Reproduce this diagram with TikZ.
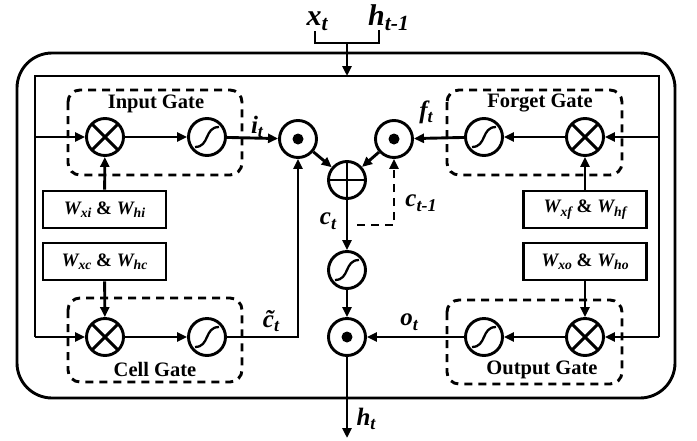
\documentclass[tikz,border=0pt]{standalone}
\usepackage{fontspec}
\setmainfont{Liberation Serif}
\usetikzlibrary{arrows.meta,calc}
\newcommand\subs[1]{\raisebox{-0.18em}{\scalebox{0.72}{#1}}}
\begin{document}
\begin{tikzpicture}[x=1pt,y=-1pt,
 ln/.style={line width=2.9pt},
 arr/.style={line width=2.9pt,-{Triangle[length=10pt,width=9pt]}},
 dsh/.style={line width=2.9pt,dash pattern=on 8pt off 6pt},
 op/.style={circle,draw,line width=2.9pt,minimum size=37pt,inner sep=0pt},
 mul/.style={op,path picture={\draw[line width=2.9pt] (path picture bounding box.north west)--(path picture bounding box.south east) (path picture bounding box.north east)--(path picture bounding box.south west);}},
 pls/.style={op,path picture={\draw[line width=2.9pt] (path picture bounding box.north)--(path picture bounding box.south) (path picture bounding box.east)--(path picture bounding box.west);}},
 dotop/.style={op,path picture={\fill (path picture bounding box.center) circle[radius=5.5pt];}},
 sig/.style={op,path picture={\draw[line width=2.3pt] ([shift={(-12pt,-10pt)}]path picture bounding box.center) .. controls +(15pt,0pt) and +(-15pt,0pt) .. ([shift={(12pt,10pt)}]path picture bounding box.center);}},
 gbox/.style={dsh,rounded corners=12pt},
 glbl/.style={font=\fontsize{20.5}{22}\selectfont\bfseries,inner sep=0pt},
 wbox/.style={draw,line width=2.9pt,minimum width=123pt,minimum height=37pt,inner sep=0pt,font=\fontsize{19}{21}\selectfont\bfseries\itshape},
 lbl/.style={font=\fontsize{25}{27}\selectfont\bfseries\itshape,inner sep=0pt},
 ibl/.style={font=\fontsize{30}{32}\selectfont\bfseries\itshape,inner sep=0pt}
]
\useasboundingbox (0,0) rectangle (697,440);
% outer box
\draw[line width=2.9pt,rounded corners=35pt] (17,53) rectangle (675,398);
% gate boxes
\draw[gbox] (68,90) rectangle (242,175);
\draw[gbox] (447,90) rectangle (622,175);
\draw[gbox] (68,298) rectangle (242,382);
\draw[gbox] (447,300) rectangle (622,384);
\node[glbl] (gi) at (156,104) {Input Gate};
\node[glbl] (gf) at (540,103) {Forget Gate};
\node[glbl] (gc) at (155,369) {Cell Gate};
\node[glbl] (go) at (542,370) {Output Gate};
% operators
\node[mul] (mi) at (105,137) {};
\node[sig] (si) at (207,137) {};
\node[dotop] (di) at (298,139) {};
\node[mul] (mf) at (585,137) {};
\node[sig] (sf) at (484,137) {};
\node[dotop] (df) at (394,139) {};
\node[pls] (pl) at (347,180) {};
\node[sig] (sc) at (347,270) {};
\node[dotop] (do) at (347,337) {};
\node[mul] (mc) at (105,337) {};
\node[sig] (scl) at (207,337) {};
\node[mul] (mo) at (585,337) {};
\node[sig] (so) at (484,337) {};
% weight boxes
\node[wbox] (wi) at (104.5,209.5) {W\subs{xi} {\upshape\&} W\subs{hi}};
\node[wbox] (wc) at (104.5,261.5) {W\subs{xc} {\upshape\&} W\subs{hc}};
\node[wbox] (wf) at (585,209.5) {W\subs{xf} {\upshape\&} W\subs{hf}};
\node[wbox] (wo) at (585,261.5) {W\subs{xo} {\upshape\&} W\subs{ho}};
% inputs
\node[ibl,anchor=south] (xt) at (317,31) {x\subs{t}};
\node[ibl,anchor=south west] (htm) at (368,31) {h\subs{t-1}};
\coordinate (hs) at (379,30);
\coordinate (j) at (347,43);
\coordinate (tp) at (347,76);
\draw[ln] (xt.south -| 315,0) |- (j);
\draw[ln] (hs) |- (j);
\draw[arr] (j) -- (tp);
% inner loop
\coordinate (L0) at (35,76);
\coordinate (L1) at (35,137);
\coordinate (L2) at (35,337);
\coordinate (R0) at (659,76);
\coordinate (R1) at (659,137);
\coordinate (R2) at (659,337);
\draw[ln] (L2) -- (L0) -- (R0) -- (R2);
\draw[arr] (L1) -- (mi);
\draw[arr] (L2) -- (mc);
\draw[arr] (R1) -- (mf);
\draw[arr] (R2) -- (mo);
% gate internals
\draw[arr] (mi) -- (si);
\draw[arr] (si) -- (di);
\draw[arr] (mf) -- (sf);
\draw[arr] (sf) -- (df);
\draw[arr] (mc) -- (scl);
\draw[arr] (scl.east) -| (di.south);
\draw[arr] (mo) -- (so);
\draw[arr] (so) -- (do);
\draw[arr] (wi) -- (mi);
\draw[arr] (wc) -- (mc);
\draw[arr] (wf) -- (mf);
\draw[arr] (wo) -- (mo);
% cell state
\draw[arr] (di) -- (pl);
\draw[arr] (df) -- (pl);
\draw[arr] (pl) -- (sc);
\draw[arr] (sc) -- (do);
\coordinate (cs) at (357,225);
\draw[dsh,-{Triangle[length=10pt,width=9pt]}] (cs) -| (df.south);
\coordinate (hend) at (347,438);
\draw[arr] (do) -- (hend);
% labels
\node[lbl] (it) at (257,127) {i\subs{t}};
\node[lbl] (ft) at (426,112) {f\subs{t}};
\node[lbl] (ct) at (328,221) {c\subs{t}};
\node[lbl] (ctm) at (421,203) {c\subs{t-1}};
\node[lbl] (cc) at (271,321) {\~{c}\subs{t}};
\node[lbl] (ot) at (409,322) {o\subs{t}};
\node[lbl] (ht) at (366,419) {h\subs{t}};
\end{tikzpicture}
\end{document}
